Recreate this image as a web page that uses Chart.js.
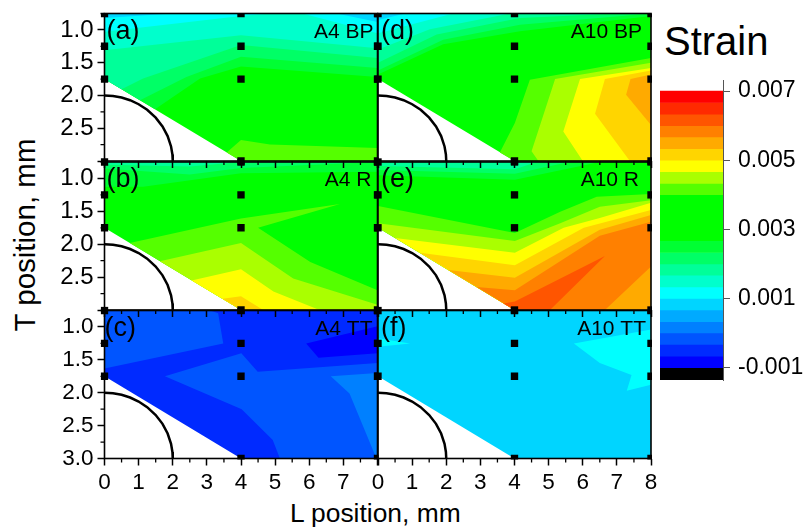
<!DOCTYPE html>
<html>
<head>
<meta charset="utf-8">
<title>Strain maps</title>
<script src="https://cdn.jsdelivr.net/npm/chart.js@4"></script>
<style>
    html, body { margin: 0; padding: 0; background: #fff; }
    #page { position: relative; width: 804px; height: 528px; overflow: hidden; }
    canvas { position: absolute; }
    .label { position: absolute; font-family: "Liberation Sans"; color: #000; white-space: nowrap; line-height: 1; }
</style>
</head>
<body>
<div id="page">
    <div class="label" style="left:664px;top:21px;font-size:40px">Strain</div>
    <div class="label" style="left:290px;top:500px;font-size:26.4px">L position, mm</div>
    <div class="label" style="left:24.5px;top:234.5px;font-size:29.5px;transform:translate(-50%,-50%) rotate(-90deg)">T position, mm</div>
</div>
<script>
// colour scale (top band first)
const bandTops = [0.007, 0.00667, 0.00633, 0.006, 0.00567, 0.00533, 0.005, 0.00467, 0.00433, 0.004, 0.00367, 0.00333, 0.003, 0.00267, 0.00233, 0.002, 0.00167, 0.00133, 0.001, 0.00067, 0.00033, 0, -0.00033, -0.00067, -0.001];
const bandColors = ['#ff0000', '#ff2a00', '#ff5500', '#ff8000', '#ffaa00', '#ffd500', '#ffff00', '#aaff00', '#55ff00', '#00ff00', '#00ff00', '#00ff00', '#00ff00', '#00ff33', '#00ff66', '#00ff99', '#00ffcc', '#00ffff', '#00d5ff', '#00aaff', '#0080ff', '#0055ff', '#002aff', '#0000ff', '#000000'];
const strainTicks = [-0.001, 0.001, 0.003, 0.005, 0.007];
const strainFloor = -0.00136;

// measured points, hole outline, domain
const gaugePoints = [[0, 0.75], [0, 1.25], [0, 1.75], [4, 0.75], [4, 1.25], [4, 1.75], [4, 3], [8, 0.75], [8, 1.25], [8, 1.75], [8, 3]];
const holeOutline = [[0, 2], [0.25, 2.008], [0.5, 2.032], [0.75, 2.073], [1, 2.134], [1.25, 2.219], [1.5, 2.339], [1.7, 2.473], [1.85, 2.62], [1.95, 2.778], [1.99, 2.9], [2, 3]];
const domainOutline = [[0, 0.75], [8, 0.75], [8, 3], [4, 3], [0, 1.75]];

// contour regions per panel: [strain, outline], later entries are painted over earlier ones
const a4BpRegions = [
    [0.0033, domainOutline],
    [0.0025, [[0, 0.75], [8, 0.75], [8, 1.72], [4, 1.56], [2.8, 1.74], [1.48, 2.21], [0, 1.75]]],
    [0.0022, [[0, 0.75], [8, 0.75], [8, 1.58], [4, 1.41], [2.4, 1.72], [1.04, 2.075], [0, 1.75]]],
    [0.0018, [[0, 0.75], [8, 0.75], [8, 1.43], [4, 1.23], [1.13, 1.74], [0.5, 1.906], [0, 1.75]]],
    [0.0015, [[0, 0.75], [8, 0.75], [8, 1.28], [4, 1.08], [0, 1.31]]],
    [0.0012, [[0, 0.75], [4.85, 0.75], [4, 0.79], [0, 1.03]]],
    [0.0012, [[5.8, 0.75], [8, 0.75], [8, 1.05]]],
    [0.0008, [[0, 0.75], [2, 0.75], [0, 0.82]]],
    [0.0008, [[6.8, 0.75], [8, 0.75], [8, 0.88]]],
    [0.0042, [[3.58, 2.87], [4, 2.68], [4.85, 2.75], [8, 2.8], [8, 3], [4, 3]]]
];
const a4RRegions = [
    [0.0033, domainOutline],
    [0.0025, [[0, 0.75], [8, 0.75], [8, 0.9], [4, 0.92], [1.13, 1.125], [0, 1.125]]],
    [0.0022, [[0, 0.75], [8, 0.75], [4, 0.84], [2.5, 0.94], [0, 0.85]]],
    [0.0018, [[0, 0.75], [4, 0.75], [2.5, 0.82], [0, 0.79]]],
    [0.0042, [[0.74, 1.98], [4, 1.61], [6.9, 1.39], [4.5, 1.75], [6.03, 2.27], [8, 2.7], [8, 3], [4, 3]]],
    [0.0045, [[1.62, 2.26], [4, 1.98], [5.53, 2.52], [8, 2.92], [8, 3], [4, 3]]],
    [0.0048, [[2.55, 2.55], [4, 2.38], [4.95, 2.72], [6.3, 3], [4, 3]]],
    [0.0052, [[3.46, 2.83], [4, 2.79], [4.65, 3], [4, 3]]]
];
const a4TtRegions = [
    [-0.0005, domainOutline],
    [-0.0002, [[0, 0.75], [3.1, 0.75], [3.33, 0.79], [3.48, 1.25], [0, 1.63]]],
    [-0.0002, [[1.77, 1.75], [4.01, 1.4], [4.49, 1.68], [8, 1.55], [8, 3], [5.14, 3], [4.93, 2.72], [4.02, 2.25]]],
    [-0.0008, [[5.91, 1.25], [8, 0.99], [8, 1.4], [6.27, 1.47]]],
    [0.0002, [[6.63, 1.75], [8, 1.7], [8, 3], [7.93, 2.95], [7.18, 2.01]]]
];
const a10BpRegions = [
    [0.0033, domainOutline],
    [0.0025, [[0, 0.75], [8, 0.75], [8, 0.79], [4.16, 1.02], [1.91, 1.22], [0, 1.68]]],
    [0.0022, [[0, 0.75], [8, 0.75], [4.16, 0.92], [1.91, 1.15], [0, 1.62]]],
    [0.0018, [[0, 0.75], [7, 0.75], [4.16, 0.82], [1.72, 1.07], [0, 1.5]]],
    [0.0015, [[0, 0.75], [3.87, 0.75], [1.52, 0.99], [0, 1.3]]],
    [0.0012, [[0, 0.75], [2.2, 0.75], [0, 1.05]]],
    [0.0008, [[0, 0.75], [0.8, 0.75], [0, 0.85]]],
    [0.0042, [[3.57, 2.87], [4.01, 2.42], [4.45, 1.76], [8, 1.43], [8, 3], [4, 3]]],
    [0.0045, [[4.7, 3], [4.5, 2.85], [5.19, 1.75], [8, 1.5], [8, 3]]],
    [0.0048, [[6, 3], [5.43, 2.55], [5.92, 1.75], [8, 1.58], [8, 3]]],
    [0.0052, [[7.38, 3], [6.36, 2.28], [6.65, 1.75], [8, 1.62], [8, 3]]],
    [0.0055, [[8, 2.45], [7.27, 1.99], [7.4, 1.75], [8, 1.68]]]
];
const a10RRegions = [
    [0.0033, domainOutline],
    [0.0025, [[0, 0.75], [6.5, 0.75], [4.01, 1.02], [0, 0.95]]],
    [0.0022, [[0, 0.75], [5.6, 0.75], [4.01, 0.93], [0, 0.87]]],
    [0.0018, [[0, 0.75], [4.65, 0.75], [4.01, 0.86], [0, 0.81]]],
    [0.0042, [[0, 1.42], [4.01, 1.83], [5.34, 1.505], [6.41, 1.28], [8, 1.236], [8, 3], [4, 3], [0, 1.75]]],
    [0.0045, [[0, 1.68], [4.01, 1.95], [5.34, 1.68], [6.5, 1.43], [8, 1.33], [8, 3], [4, 3], [0, 1.75]]],
    [0.0048, [[0.5, 1.906], [4.01, 2.13], [5.44, 1.75], [6.5, 1.6], [8, 1.37], [8, 3], [4, 3]]],
    [0.0052, [[1.23, 2.13], [4.01, 2.32], [6.03, 1.75], [8, 1.48], [8, 3], [4, 3]]],
    [0.0055, [[2.06, 2.39], [4.01, 2.51], [6.5, 1.78], [8, 1.556], [8, 3], [4, 3]]],
    [0.0058, [[2.89, 2.65], [4.01, 2.7], [6.5, 1.87], [8, 1.66], [8, 3], [4, 3]]],
    [0.0062, [[3.67, 2.9], [4.01, 2.87], [6.65, 2.18], [5.04, 3], [4, 3]]],
    [0.0055, [[6.65, 3], [8, 2.34], [8, 3]]]
];
const a10TtRegions = [
    [0.0008, domainOutline],
    [0.0012, [[5.74, 1.25], [8, 1.04], [8, 1.88], [7.29, 1.97], [7.43, 1.73], [6.5, 1.55]]],
    [0.0012, [[0, 1.17], [0.94, 1.25], [0, 1.3]]]
];

// plot rectangles in page pixels
const columns = [[104.5, 377.5], [378, 651]];
const rows = [[13.5, 161], [162, 310], [310.5, 458.5]];
const marginLeft = 50, marginRight = 8, marginTop = 8, marginBottom = 36;

Chart.defaults.font.family = '"Liberation Sans"';
Chart.defaults.color = '#000';
Chart.defaults.animation = false;

const page = document.getElementById('page');

const addCanvas = (left, top, width, height, z) =>
{
    const canvas = document.createElement('canvas');
    canvas.width = width;
    canvas.height = height;
    canvas.style.cssText = `left:${left}px;top:${top}px;width:${width}px;height:${height}px;z-index:${z}`;
    page.appendChild(canvas);
    return canvas;
};

const colorFor = (strain) =>
{
    let found = 0;
    for (let i = 0; i < bandTops.length; i++)
    {
        if (strain <= bandTops[i]) found = i;
    }
    return bandColors[found];
};

const isWhole = (value, step) => Math.abs(value / step - Math.round(value / step)) < 1e-6;

// stops the scale adding room for half a tick label, the plot rectangles are fixed
const dropLabelPadding = (scale) =>
{
    scale.paddingTop = 0;
    scale.paddingBottom = 0;
    scale.paddingLeft = 0;
    scale.paddingRight = 0;
};

const makePanel = (p) =>
{
    const [x0, x1] = columns[p.col];
    const [y0, y1] = rows[p.row];
    const left = Math.floor(x0) - marginLeft;
    const top = Math.floor(y0) - marginTop;
    const width = Math.ceil(x1) + marginRight - left;
    const height = Math.ceil(y1) + marginBottom - top;

    const datasets = [];
    datasets.push({ data: gaugePoints, pointStyle: 'rect', pointRadius: 5.2, backgroundColor: '#000', borderWidth: 0, order: 0, clip: { left: 4, right: 1, top: p.row === 0 ? 0 : 4, bottom: p.row === 2 ? 1 : 4 } });
    datasets.push({ data: holeOutline, showLine: true, pointRadius: 0, borderColor: '#000', borderWidth: 2.5, fill: false, order: 1 });
    p.regions.forEach((region, i) =>
    {
        datasets.push({ data: region[1], showLine: true, pointRadius: 0, borderWidth: 0, backgroundColor: colorFor(region[0]), fill: 'shape', order: 100 - i });
    });

    const framePlugin =
    {
        id: 'frame',
        afterDatasetsDraw: (chart) =>
        {
            const ctx = chart.ctx;
            const a = chart.chartArea;
            ctx.save();
            ctx.strokeStyle = '#000';
            ctx.lineWidth = 1.6;
            ctx.strokeRect(a.left, a.top, a.right - a.left, a.bottom - a.top);

            // short minor ticks
            ctx.lineWidth = 1.3;
            ctx.beginPath();
            chart.scales.x.ticks.forEach((t) =>
            {
                if (isWhole(t.value, 1)) return;
                const px = chart.scales.x.getPixelForValue(t.value);
                ctx.moveTo(px, a.bottom);
                ctx.lineTo(px, a.bottom + 4);
            });
            if (p.col === 0)
            {
                chart.scales.y.ticks.forEach((t) =>
                {
                    if (isWhole(t.value, 0.5)) return;
                    const py = chart.scales.y.getPixelForValue(t.value);
                    ctx.moveTo(a.left, py);
                    ctx.lineTo(a.left - 4, py);
                });
            }
            ctx.stroke();

            ctx.fillStyle = '#000';
            ctx.textBaseline = 'alphabetic';
            ctx.textAlign = 'left';
            ctx.font = '27px "Liberation Sans"';
            ctx.fillText(p.letter, a.left + p.letterDx, a.top + 25);
            ctx.textAlign = 'right';
            ctx.font = '21px "Liberation Sans"';
            ctx.fillText(p.name, a.right - p.nameDx, a.top + 24);
            ctx.restore();
        }
    };

    new Chart(addCanvas(left, top, width, height, 10 - p.row),
    {
        type: 'scatter',
        data: { datasets: datasets },
        plugins: [framePlugin],
        options:
        {
            responsive: false,
            layout: { padding: { top: y0 - top, right: left + width - x1, left: 0, bottom: 0 } },
            plugins: { legend: { display: false }, tooltip: { enabled: false } },
            scales:
            {
                x:
                {
                    type: 'linear',
                    min: 0,
                    max: 8,
                    afterFit: (scale) => { scale.height = top + height - y1; dropLabelPadding(scale) },
                    border: { display: false },
                    grid:
                    {
                        drawOnChartArea: false,
                        tickLength: 7,
                        tickWidth: 1.5,
                        tickColor: (c) => isWhole(c.tick.value, 1) ? '#000' : 'transparent'
                    },
                    ticks:
                    {
                        stepSize: 0.5,
                        autoSkip: false,
                        maxRotation: 0,
                        padding: 4,
                        display: p.row === 2,
                        font: { size: 22.5 },
                        callback: (v) => isWhole(v, 1) && (p.col === 1 || v < 8) ? String(v) : ''
                    }
                },
                y:
                {
                    type: 'linear',
                    reverse: true,
                    min: 0.75,
                    max: 3,
                    afterFit: (scale) => { scale.width = x0 - left; dropLabelPadding(scale) },
                    border: { display: false },
                    grid:
                    {
                        drawOnChartArea: false,
                        tickLength: 7,
                        tickWidth: 1.5,
                        tickColor: (c) => p.col === 0 && isWhole(c.tick.value, 0.5) ? '#000' : 'transparent'
                    },
                    ticks:
                    {
                        stepSize: 0.25,
                        autoSkip: false,
                        padding: 4,
                        display: p.col === 0,
                        font: { size: p.row === 2 ? 22.5 : 24 },
                        callback: (v) =>
                        {
                            if (!isWhole(v, 0.5)) return '';
                            if (v === 3 && p.row !== 2) return '';
                            return v.toFixed(1);
                        }
                    }
                }
            }
        }
    });
};

makePanel({ col: 0, row: 0, letter: '(a)', name: 'A4 BP', letterDx: 2, nameDx: 4, regions: a4BpRegions });
makePanel({ col: 0, row: 1, letter: '(b)', name: 'A4 R', letterDx: 2, nameDx: 6, regions: a4RRegions });
makePanel({ col: 0, row: 2, letter: '(c)', name: 'A4 TT', letterDx: 0, nameDx: 5, regions: a4TtRegions });
makePanel({ col: 1, row: 0, letter: '(d)', name: 'A10 BP', letterDx: 3, nameDx: 9, regions: a10BpRegions });
makePanel({ col: 1, row: 1, letter: '(e)', name: 'A10 R', letterDx: 3, nameDx: 12, regions: a10RRegions });
makePanel({ col: 1, row: 2, letter: '(f)', name: 'A10 TT', letterDx: 3, nameDx: 5, regions: a10TtRegions });

// colour bar, one floating bar per band
const barDatasets = bandTops.map((t, i) =>
{
    const bottom = i + 1 < bandTops.length ? bandTops[i + 1] : strainFloor;
    return { data: [[bottom, t]], backgroundColor: bandColors[i], borderWidth: 0, barPercentage: 1, categoryPercentage: 1, grouped: false };
});

new Chart(addCanvas(650, 70, 154, 320, 20),
{
    type: 'bar',
    data: { labels: ['Strain'], datasets: barDatasets },
    options:
    {
        responsive: false,
        layout: { padding: { left: 10, top: 10, right: 0, bottom: 10 } },
        plugins: { legend: { display: false }, tooltip: { enabled: false } },
        scales:
        {
            x: { display: false, stacked: false },
            y:
            {
                position: 'right',
                min: strainFloor,
                max: 0.00732,
                afterFit: (scale) => { scale.width = 81; dropLabelPadding(scale) },
                afterBuildTicks: (scale) => { scale.ticks = strainTicks.map((v) => ({ value: v })) },
                border: { color: '#555', width: 1 },
                grid: { drawOnChartArea: false, tickLength: 7, tickColor: '#555' },
                ticks: { padding: 8, font: { size: 23 }, callback: (v) => v.toFixed(3) }
            }
        }
    }
});
</script>
</body>
</html>
